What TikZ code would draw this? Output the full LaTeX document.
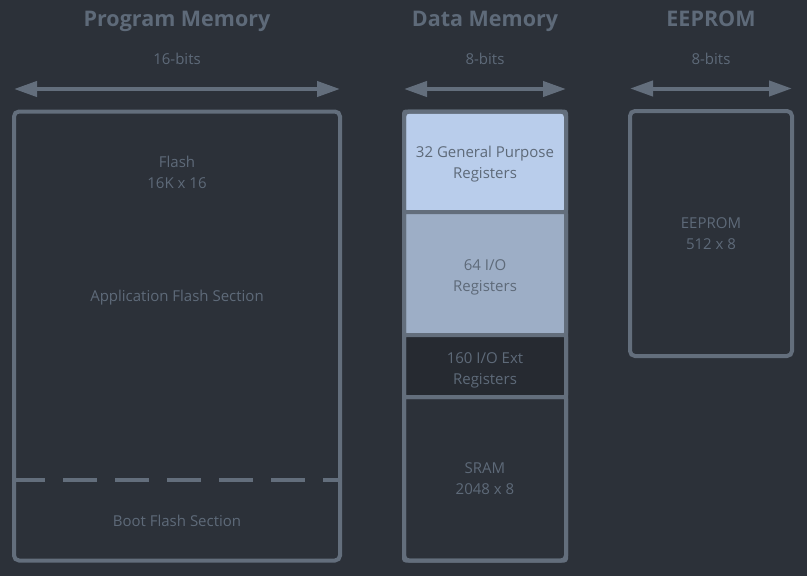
\documentclass[tikz,border=0pt]{standalone}
\usepackage{fontspec}
\setmainfont{Open Sans}
\usepackage{tikz}
\usetikzlibrary{arrows.meta,positioning}
\definecolor{bgc}{RGB}{44,49,57}
\definecolor{edge}{RGB}{99,110,124}
\definecolor{txt}{RGB}{94,106,121}
\definecolor{gprfill}{RGB}{185,205,235}
\definecolor{iofill}{RGB}{157,174,198}
\definecolor{extfill}{RGB}{38,42,49}

\begin{document}
\begin{tikzpicture}[x=1pt,y=-1pt,
  memtitle/.style={txt,font=\bfseries\fontsize{21.5}{25}\selectfont,anchor=base},
  bitlabel/.style={txt,font=\fontsize{15}{18}\selectfont,anchor=base},
  memtext/.style={txt,font=\fontsize{15}{21}\selectfont,align=center},
  membox/.style={draw=edge,line width=4pt,rounded corners=5pt,outer sep=0pt,inner sep=0pt,minimum width=162},
  memsect/.style={draw=edge,line width=4pt,rounded corners=2pt,outer sep=0pt,inner sep=0pt,minimum width=162},
  bitarrow/.style={{Triangle[length=23pt,width=15pt]}-{Triangle[length=23pt,width=15pt]},edge,line width=4pt}]
\path[use as bounding box,fill=bgc] (0,0) rectangle (807,576);
% program memory
\node[memtitle] (ptitle) at (177,26) {Program Memory};
\node[bitlabel] (pbits) at (177,64) {16-bits};
\node[membox,minimum width=326,minimum height=449] (prog) at (177,336) {};
\draw[bitarrow] ([yshift=22.5pt]prog.north west) -- ([yshift=22.5pt]prog.north east);
\draw[edge,line width=4pt,dash pattern=on 34pt off 18pt,dash phase=3pt] ([yshift=80.5pt]prog.south west) -- ([yshift=80.5pt]prog.south east);
\node[memtext] (flash) at (177,172) {Flash\\16K x 16};
\node[memtext] (app) at (177,298) {Application Flash Section};
\node[memtext] (boot) at (177,521) {Boot Flash Section};
% data memory
\node[memtitle] (dtitle) at (485,26) {Data Memory};
\node[bitlabel] (dbits) at (485,64) {8-bits};
\node[memsect,fill=gprfill,minimum height=100.5,anchor=north] (gpr) at (485,111.5) {};
\node[memsect,fill=iofill,minimum height=123,below=0pt of gpr] (io) {};
\node[memsect,fill=extfill,minimum height=62,below=0pt of io] (ext) {};
\node[memsect,minimum height=163.5,below=0pt of ext] (sram) {};
\node[membox,minimum height=449] (data) at (485,336) {};
\draw[bitarrow] ([yshift=22.5pt]data.north west) -- ([yshift=22.5pt]data.north east);
\node[memtext] (gprtext) at ([yshift=-2.5pt]gpr) {32 General Purpose\\Registers};
\node[memtext] (iotext) at ([yshift=-3.5pt]io) {64 I/O\\Registers};
\node[memtext] (exttext) at ([yshift=-4pt]ext) {160 I/O Ext\\Registers};
\node[memtext] (sramtext) at (sram) {SRAM\\2048 x 8};
% eeprom
\node[memtitle] (etitle) at (711,26) {EEPROM};
\node[bitlabel] (ebits) at (711,64) {8-bits};
\node[membox,minimum height=245] (eeprom) at (711,233.5) {};
\draw[bitarrow] ([yshift=22.5pt]eeprom.north west) -- ([yshift=22.5pt]eeprom.north east);
\node[memtext] (eetext) at (eeprom) {EEPROM\\512 x 8};
\end{tikzpicture}
\end{document}
